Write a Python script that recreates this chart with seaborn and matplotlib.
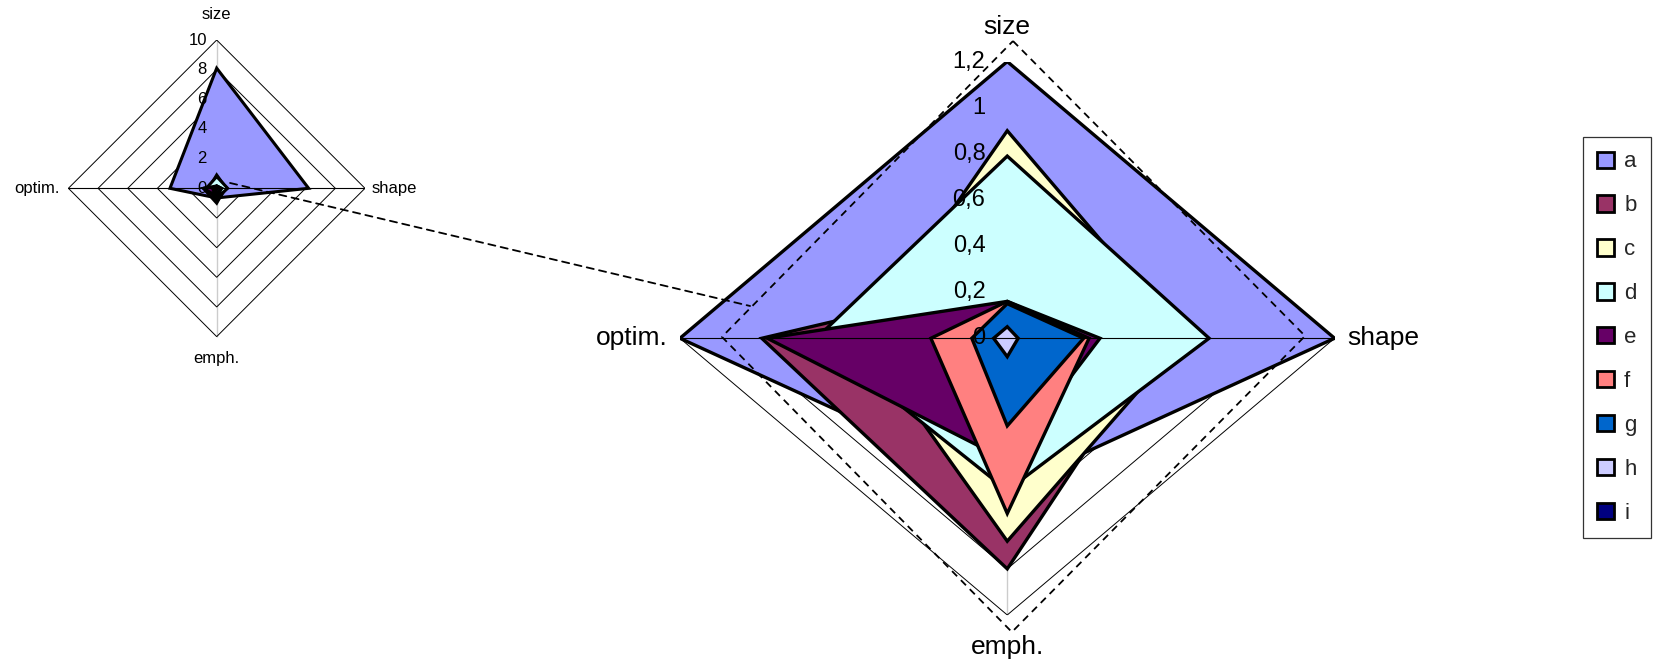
import numpy as np
import matplotlib
matplotlib.use("Agg")
import matplotlib.pyplot as plt
from matplotlib.patches import Patch, ConnectionPatch
import seaborn as sns

# Radar categories, clockwise from the top
categories = ["size", "shape", "emph.", "optim."]
series_names = ["a", "b", "c", "d", "e", "f", "g", "h", "i"]

# Values per series, in category order (size, shape, emph., optim.)
a_vals = [8.1, 6.2, 0.65, 3.15]
b_vals = [0.25, 0.56, 1.0, 0.9]
c_vals = [0.9, 0.65, 0.88, 0.53]
d_vals = [0.79, 0.74, 0.66, 0.70]
e_vals = [0.16, 0.34, 0.53, 0.88]
f_vals = [0.16, 0.30, 0.76, 0.28]
g_vals = [0.15, 0.28, 0.38, 0.13]
h_vals = [0.05, 0.04, 0.08, 0.05]
i_vals = [0.0, 0.0, 0.0, 0.0]

series_colors = ["#9999FF", "#993366", "#FFFFCC", "#CCFFFF", "#660066",
                 "#FF8080", "#0066CC", "#CCCCFF", "#000080"]

overview_ticks = [0, 2, 4, 6, 8, 10]
overview_tick_labels = ["0", "2", "4", "6", "8", "10"]
detail_ticks = [0, 0.2, 0.4, 0.6, 0.8, 1.0, 1.2]
detail_tick_labels = ["0", "0,2", "0,4", "0,6", "0,8", "1", "1,2"]

all_series = [a_vals, b_vals, c_vals, d_vals, e_vals, f_vals, g_vals, h_vals, i_vals]

sns.set_theme(style="white")
plt.rcParams["font.family"] = ["Liberation Sans", "DejaVu Sans"]

# unit direction of each category spoke
directions = np.array([[0, 1], [1, 0], [0, -1], [-1, 0]], dtype=float)


def diamond(values):
    v = np.asarray(values, dtype=float)[:, None]
    pts = directions * v
    return pts[:, 0], pts[:, 1]


def draw_radar(ax, rmax, ticks, tick_labels, tick_dx, label_pos, label_size,
               tick_size, edge_lw):
    ax.set_xlim(-rmax, rmax)
    ax.set_ylim(-rmax, rmax)
    ax.set_axis_off()
    # grid rings (behind the series)
    for t in ticks[1:]:
        x, y = diamond([t] * 4)
        ax.fill(x, y, facecolor="none", edgecolor="black", lw=0.7, zorder=1)
    # filled series, first one at the back
    for k, (vals, col) in enumerate(zip(all_series, series_colors)):
        x, y = diamond(np.minimum(vals, rmax))
        ax.fill(x, y, facecolor=col, edgecolor="black", lw=edge_lw,
                joinstyle="miter", zorder=2 + k * 0.01)
    # spokes on top
    for dx, dy in directions:
        spoke = {"x": [0, dx * rmax], "y": [0, dy * rmax]}
        sns.lineplot(x=spoke["x"], y=spoke["y"], ax=ax, color="black", lw=0.8,
                     sort=False, zorder=3, legend=False)
    # value labels along the vertical axis
    for t, lab in zip(ticks, tick_labels):
        ax.text(tick_dx, t, lab, ha="right", va="center", fontsize=tick_size,
                color="black", zorder=4, clip_on=False)
    # category labels
    for name, (px, py, ha) in zip(categories, label_pos):
        ax.text(px, py, name, ha=ha, va="center", fontsize=label_size,
                color="black", clip_on=False, zorder=4)


fig = plt.figure(figsize=(16.56, 6.59), dpi=100)
fig.patch.set_facecolor("white")

ax_small = fig.add_axes([0.0413, 0.4892, 0.1791, 0.4501])
draw_radar(ax_small, 10, overview_ticks, overview_tick_labels, -0.67,
           [(0, 11.75, "center"), (10.45, 0, "left"),
            (0, -11.5, "center"), (-10.6, 0, "right")],
           label_size=12, tick_size=12, edge_lw=2.2)

ax_big = fig.add_axes([0.4106, 0.0668, 0.3953, 0.8398])
draw_radar(ax_big, 1.2, detail_ticks, detail_tick_labels, -0.08,
           [(0, 1.351, "center"), (1.248, 0, "left"),
            (0, -1.337, "center"), (-1.246, 0, "right")],
           label_size=19, tick_size=17, edge_lw=2.4)

# dashed magnifier outline around the detail chart
zoom_x = [0.021, 1.092, 0.017, -1.046, 0.021]
zoom_y = [1.289, 0.01, -1.274, 0.006, 1.289]
ax_big.plot(zoom_x, zoom_y, color="black", lw=1.3, ls=(0, (4, 3)),
            zorder=5, clip_on=False)

# dashed connector from the overview centre to the detail outline
con = ConnectionPatch(xyA=(0.9, 0.36), coordsA=ax_small.transData,
                      xyB=(-0.943, 0.14), coordsB=ax_big.transData,
                      color="black", lw=1.3, ls=(0, (4, 3)), zorder=6)
fig.add_artist(con)

handles = [Patch(facecolor=c, edgecolor="black", lw=2.0) for c in series_colors]
leg = fig.legend(handles, series_names, loc="upper left",
                 bbox_to_anchor=(1583 / 1656, 1 - 137 / 659),
                 frameon=True, fancybox=False, edgecolor="black",
                 fontsize=16, handlelength=0.75, handleheight=0.75,
                 handletextpad=0.45, borderpad=0.65, labelspacing=1.03,
                 borderaxespad=0)
leg.get_frame().set_linewidth(0.9)

fig.savefig("out.png", dpi=100, facecolor="white")
